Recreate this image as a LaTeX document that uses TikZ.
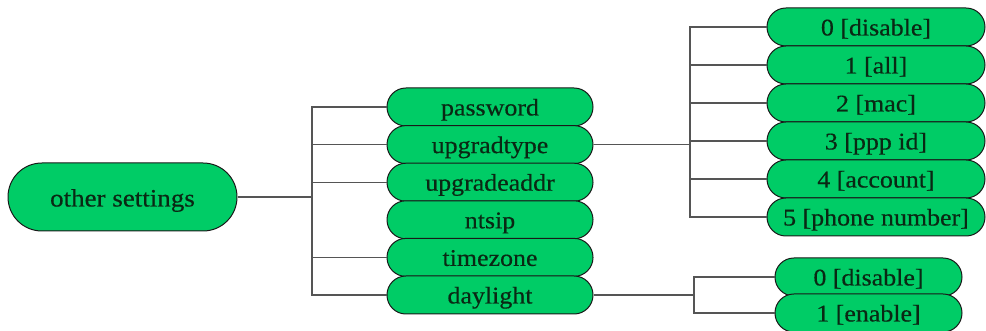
\documentclass[tikz,border=0pt]{standalone}
\usepackage{fontspec}
\setmainfont{Liberation Serif}[FakeStretch=1.08,FakeBold=0.4]
\definecolor{boxgreen}{RGB}{0,204,102}
\definecolor{linegray}{RGB}{85,85,85}
\definecolor{txt}{RGB}{10,40,20}
\begin{document}
\begin{tikzpicture}[x=1pt,y=1pt,
  box/.style={draw=black!90, line width=1pt, fill=boxgreen, rounded corners=18.9pt,
    minimum height=38pt, inner sep=0pt, font=\fontsize{24}{24}\selectfont, text=txt,
    text height=17pt, text depth=0pt},
  midbox/.style={box, minimum width=206pt},
  rbox/.style={box, minimum width=218pt},
  dbox/.style={box, minimum width=187pt},
  conn/.style={draw=linegray, line width=1.3pt}]
\useasboundingbox (0,0) rectangle (986,-331);
% root
\node[box, minimum width=229pt, minimum height=68pt, rounded corners=33.9pt,
  font=\fontsize{25}{25}\selectfont, text height=19pt] (root) at (122.5,-197) {other settings};
% middle column
\node[midbox] (pw) at (490,-107) {password};
\node[midbox] (ut) at (490,-144.6) {upgradtype};
\node[midbox] (ua) at (490,-182.2) {upgradeaddr};
\node[midbox] (nt) at (490,-219.8) {ntsip};
\node[midbox] (tz) at (490,-257.4) {timezone};
\node[midbox] (dl) at (490,-295) {daylight};
% upgradtype children
\node[rbox] (u0) at (876,-27) {0 [disable]};
\node[rbox] (u1) at (876,-65) {1 [all]};
\node[rbox] (u2) at (876,-103) {2 [mac]};
\node[rbox] (u3) at (876,-141) {3 [ppp id]};
\node[rbox] (u4) at (876,-179) {4 [account]};
\node[rbox] (u5) at (876,-217) {5 [phone number]};
% daylight children
\node[dbox] (d0) at (868.5,-277) {0 [disable]};
\node[dbox] (d1) at (868.5,-313) {1 [enable]};
% junctions
\coordinate (tr) at (312,-197);
\coordinate (ub) at (690,-144.6);
\coordinate (db) at (694,-295);
% connectors
\draw[conn] (root.east) -- (tr);
\foreach \n in {pw,ut,ua,tz,dl} \draw[conn] (\n.west) -| (tr);
\draw[conn] (ut.east) -- (ub);
\foreach \n in {u0,u1,u2,u3,u4,u5} \draw[conn] (\n.west) -| (ub);
\draw[conn] (dl.east) -- (db);
\foreach \n in {d0,d1} \draw[conn] (\n.west) -| (db);
\end{tikzpicture}
\end{document}
